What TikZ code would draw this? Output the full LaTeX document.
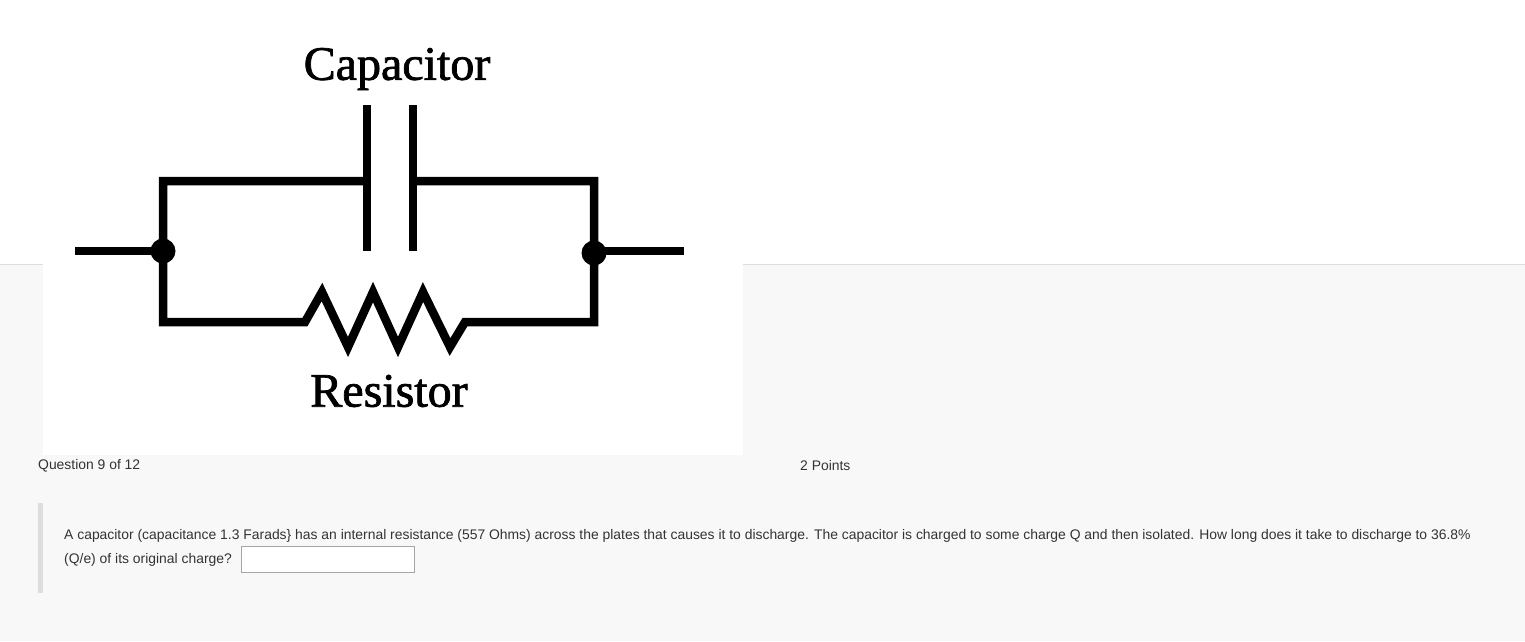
\documentclass[tikz,border=0pt]{standalone}
\usepackage{fontspec}
\setmainfont{Liberation Serif}
\newfontfamily\uisans{Liberation Sans}
\definecolor{pagebg}{HTML}{F8F8F8}
\definecolor{bartxt}{HTML}{333333}
\definecolor{barc}{HTML}{DDDDDD}
\begin{document}
\begin{tikzpicture}[x=1pt,y=-1pt,
  wire/.style={line width=8.5pt},
  dotn/.style={circle,fill=black,inner sep=0pt,minimum size=25pt},
  ui/.style={font=\uisans\fontsize{13.9}{16}\selectfont,text=bartxt,anchor=west,inner sep=0pt},
  lbl/.style={font=\fontsize{48}{50}\selectfont,inner sep=0pt,draw=none,text=black}]
\useasboundingbox (0,0) rectangle (1525,641);
\fill[white] (0,0) rectangle (1525,264);
\fill[pagebg] (0,264) rectangle (1525,641);
\draw[barc,line width=0.6pt] (0,264.3) -- (1525,264.3);
\fill[white] (43,0) rectangle (743,455);
% circuit
\coordinate (L) at (75,251);
\coordinate (R) at (684,251);
\node[dotn] (jl) at (163,251) {};
\node[dotn] (jr) at (594,253) {};
\coordinate (tl) at (163,181);
\coordinate (tr) at (594,181);
\coordinate (bl) at (163,322);
\coordinate (br) at (594,322);
\coordinate (pa1) at (367,105);
\coordinate (pa2) at (367,251);
\coordinate (pb1) at (413,105);
\coordinate (pb2) at (413,251);
\draw[wire] (L) -- (jl.center);
\draw[wire] (jr.center |- R) -- (R);
\draw[wire,line join=miter] (367,181) -- (tl) -- (bl) -- (290,322) -- (305,322) -- (322,292) -- (348,347) -- (373,292) -- (398,347) -- (423,292) -- (450,347) -- (465,322) -- (br) -- (tr) -- (413,181);
\draw[wire] (pa1) -- (pa2);
\draw[wire] (pb1) -- (pb2);
\node[lbl] (cap) at (397,69) {\addfontfeature{FakeBold=1.5}Capacitor};
\node[lbl] (res) at (389,391) {\addfontfeature{FakeBold=1.5}Resistor};
% question
\node[ui] (q) at (38,465.5) {Question 9 of 12};
\node[ui] (pts) at (800,465.5) {2 Points};
\fill[barc] (38,503) rectangle (43,593);
\node[ui] (t1) at (64,535.5) {A capacitor (capacitance 1.3 Farads\} has an internal resistance (557 Ohms) across the plates that causes it to discharge. The capacitor is charged to some charge Q and then isolated. How long does it take to discharge to 36.8\%};
\node[ui] (t2) at (64,559.5) {(Q/e) of its original charge?};
\draw[fill=white,draw=black!35,line width=0.8pt] (241,546) rectangle (414,572);
\end{tikzpicture}
\end{document}
